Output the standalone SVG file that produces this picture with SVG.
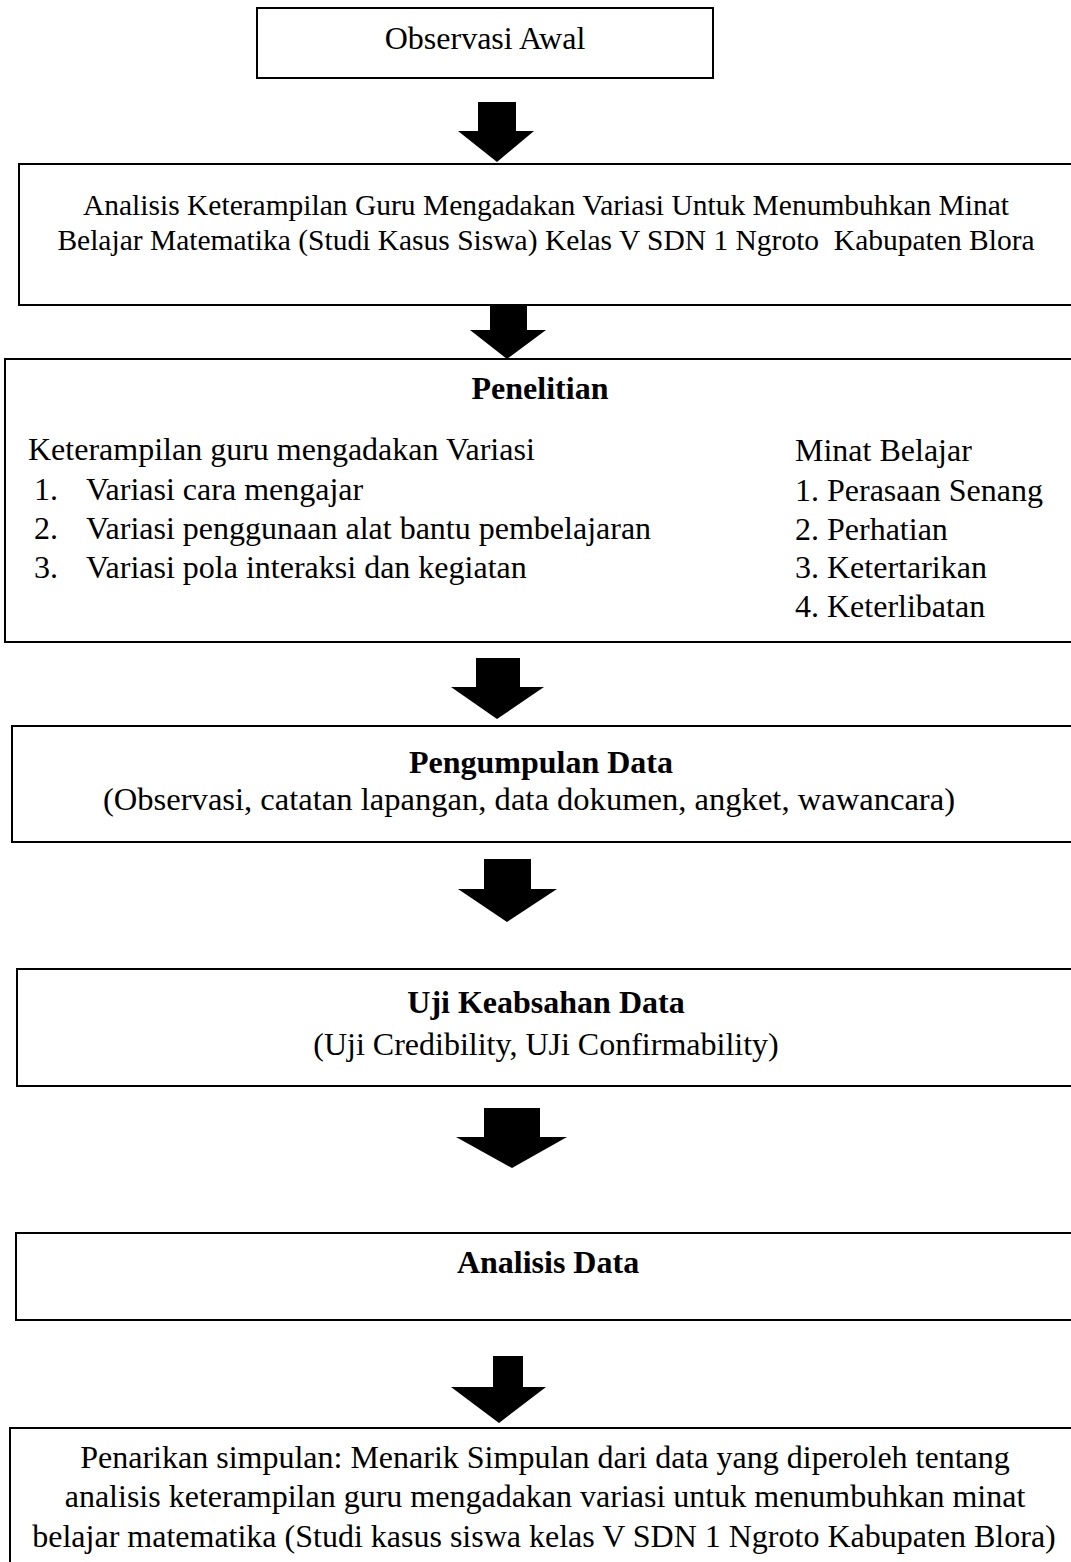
<svg xmlns="http://www.w3.org/2000/svg" width="1071" height="1562" viewBox="0 0 1071 1562">
<style>
.box{fill:#fff;stroke:#000;stroke-width:2}
.t{font-family:"Liberation Serif","Times New Roman",serif;font-size:32px;fill:#000}
.s{font-size:29.5px}
.c{text-anchor:middle}
.b{font-weight:bold}
.arr{fill:#000}
</style>
<rect width="1071" height="1562" fill="#fff"/>
<g id="connectors">
<polygon class="arr" points="478,102 516,102 516,131 534,131 497,162 458,131 478,131"/>
<polygon class="arr" points="490,303 527,303 527,330 546,330 507,359 470,330 490,330"/>
<polygon class="arr" points="476,658 520,658 520,687 544,687 497,719 451,687 476,687"/>
<polygon class="arr" points="484,859 531,859 531,889 557,889 507,922 458,889 484,889"/>
<polygon class="arr" points="484,1108 540,1108 540,1137 567,1137 512,1168 456,1137 484,1137"/>
<polygon class="arr" points="493,1356 523,1356 523,1387 546,1387 499,1423 451,1387 493,1387"/>
</g>
<g id="n1">
<rect class="box" x="257" y="8" width="456" height="70"/>
<text class="t c" x="485" y="49">Observasi Awal</text>
</g>
<g id="n2">
<rect class="box" x="19" y="164" width="1070" height="141"/>
<text class="t s c" x="546" y="215">Analisis Keterampilan Guru Mengadakan Variasi Untuk Menumbuhkan Minat</text>
<text class="t s c" x="546" y="250" xml:space="preserve">Belajar Matematika (Studi Kasus Siswa) Kelas V SDN 1 Ngroto  Kabupaten Blora</text>
</g>
<g id="n3">
<rect class="box" x="5" y="359" width="1080" height="283"/>
<text class="t c b" x="540" y="399">Penelitian</text>
<text class="t" x="28" y="460">Keterampilan guru mengadakan Variasi</text>
<text class="t" x="34" y="500">1.</text><text class="t" x="86" y="500">Variasi cara mengajar</text>
<text class="t" x="34" y="539">2.</text><text class="t" x="86" y="539">Variasi penggunaan alat bantu pembelajaran</text>
<text class="t" x="34" y="578">3.</text><text class="t" x="86" y="578">Variasi pola interaksi dan kegiatan</text>
<text class="t" x="795" y="461">Minat Belajar</text>
<text class="t" x="795" y="501">1. Perasaan Senang</text>
<text class="t" x="795" y="540">2. Perhatian</text>
<text class="t" x="795" y="578">3. Ketertarikan</text>
<text class="t" x="795" y="617">4. Keterlibatan</text>
</g>
<g id="n4">
<rect class="box" x="12" y="726" width="1075" height="116"/>
<text class="t c b" x="541" y="773">Pengumpulan Data</text>
<text class="t c" x="529" y="810" style="font-size:32.6px">(Observasi, catatan lapangan, data dokumen, angket, wawancara)</text>
</g>
<g id="n5">
<rect class="box" x="17" y="969" width="1070" height="117"/>
<text class="t c b" x="546" y="1013">Uji Keabsahan Data</text>
<text class="t c" x="546" y="1055">(Uji Credibility, UJi Confirmability)</text>
</g>
<g id="n6">
<rect class="box" x="16" y="1233" width="1070" height="87"/>
<text class="t c b" x="548" y="1273">Analisis Data</text>
</g>
<g id="n7">
<rect class="box" x="10" y="1428" width="1075" height="150"/>
<text class="t c" x="545" y="1468">Penarikan simpulan: Menarik Simpulan dari data yang diperoleh tentang</text>
<text class="t c" x="545" y="1507">analisis keterampilan guru mengadakan variasi untuk menumbuhkan minat</text>
<text class="t c" x="544" y="1547">belajar matematika (Studi kasus siswa kelas V SDN 1 Ngroto Kabupaten Blora)</text>
</g>
</svg>
